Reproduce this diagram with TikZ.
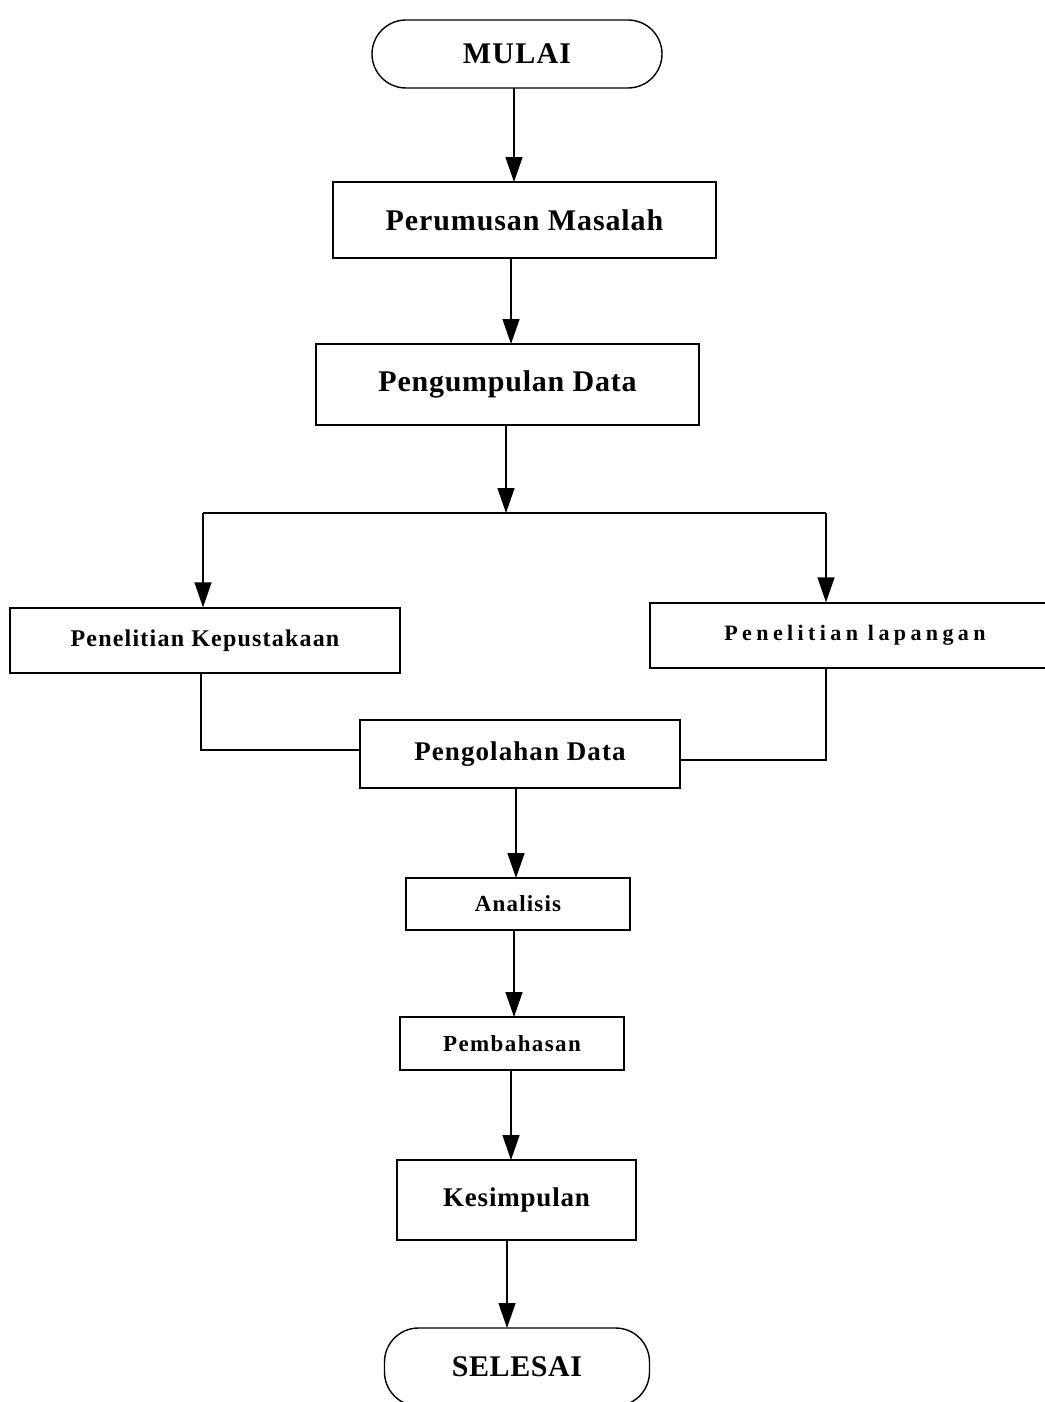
\documentclass[tikz,border=0pt]{standalone}
\usepackage{fontspec}
\setmainfont{Liberation Serif}
\usetikzlibrary{arrows.meta}
\newcommand\lbl[3]{{\fontsize{#1}{#1}\selectfont\bfseries\addfontfeature{LetterSpace=#2}#3}}
\begin{document}
\begin{tikzpicture}[x=1pt,y=-1pt,
  box/.style={draw,line width=1.4pt,inner sep=0pt,align=center},
  term/.style={box,rounded corners=34pt},
  conn/.style={line width=1.4pt},
  arr/.style={conn,-{Triangle[width=17pt,length=25pt]}}]
\useasboundingbox (0,0) rectangle (1044,1402);
\node[term,minimum width=290pt,minimum height=68pt] (mulai) at (517,54) {\lbl{30}{4}{MULAI}};
\node[box,minimum width=383pt,minimum height=76pt] (rumus) at (524.5,220) {\lbl{30}{3}{Perumusan Masalah}};
\node[box,minimum width=383pt,minimum height=81pt] (kumpul) at (507.5,384.5) {\lbl{30}{2.5}{Pengumpulan Data}};
\coordinate (split) at (506,513);
\node[box,minimum width=390pt,minimum height=65pt] (kepus) at (205,640.5) {\lbl{24}{5}{Penelitian Kepustakaan}};
\node[box,minimum width=410pt,minimum height=65pt] (lapang) at (855,635.5) {\lbl{22}{20}{Penelitian lapangan}};
\node[box,minimum width=320pt,minimum height=68pt] (olah) at (520,754) {\lbl{27}{4}{Pengolahan Data}};
\node[box,minimum width=224pt,minimum height=52pt] (anal) at (518,904) {\lbl{23}{5}{Analisis}};
\node[box,minimum width=224pt,minimum height=53pt] (bahas) at (512,1043.5) {\lbl{23}{6}{Pembahasan}};
\node[box,minimum width=239pt,minimum height=80pt] (simpul) at (516.5,1200) {\lbl{27}{3}{Kesimpulan}};
\node[term,minimum width=265pt,minimum height=78pt] (selesai) at (517,1367) {\lbl{30}{2}{SELESAI}};
\coordinate (lk) at (203,513);
\coordinate (rk) at (826,513);
\coordinate (kd) at (201,750);
\coordinate (ld) at (826,760);
\draw[arr] (514,88) -- (514,182);
\draw[arr] (511,258) -- (511,344);
\draw[arr] (kumpul.south -| split) -- (split);
\draw[conn] (lk) -- (rk);
\draw[arr] (lk) -- (lk |- kepus.north);
\draw[arr] (rk) -- (rk |- lapang.north);
\draw[conn] (kd |- kepus.south) -- (kd) -- (kd -| olah.west);
\draw[conn] (ld |- lapang.south) -- (ld) -- (ld -| olah.east);
\draw[arr] (516,788) -- (516,878);
\draw[arr] (514,930) -- (514,1017);
\draw[arr] (511,1070) -- (511,1160);
\draw[arr] (507,1240) -- (507,1328);
\end{tikzpicture}
\end{document}
